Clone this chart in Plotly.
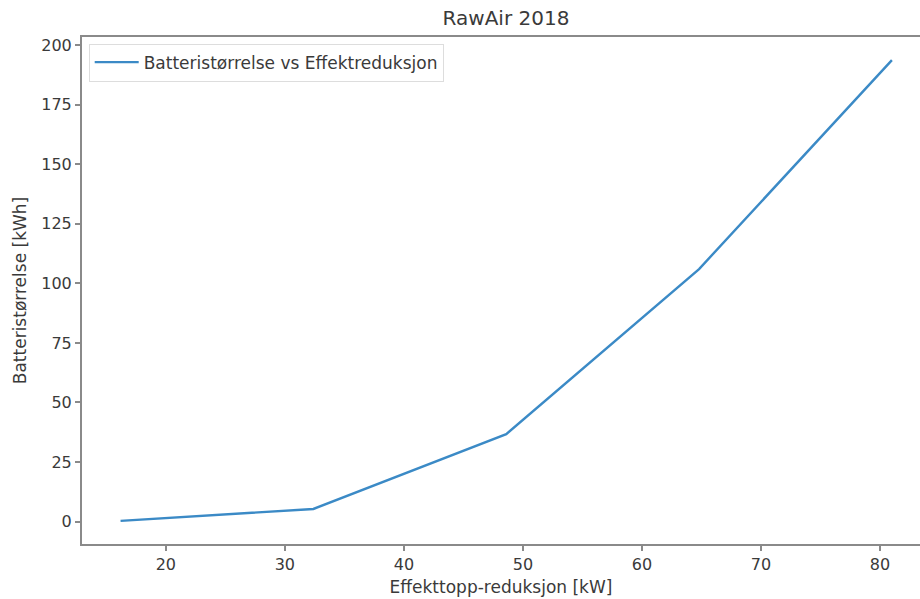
import plotly.graph_objects as go

# Peak-shaving reduction [kW] vs required battery size [kWh]
reduksjon_kw = [16.2, 32.4, 48.6, 64.8, 81.0]
batteri_kwh = [0.3, 5.3, 36.7, 106.0, 193.7]

x_ticks = [20, 30, 40, 50, 60, 70, 80]
y_ticks = [0, 25, 50, 75, 100, 125, 150, 175, 200]

text_col = "#3a3a3a"
frame_col = "#8a8a8a"
font = "DejaVu Sans"

fig = go.Figure()
fig.add_trace(go.Scatter(
    x=reduksjon_kw, y=batteri_kwh, mode="lines",
    name="Batteristørrelse vs Effektreduksjon",
    line=dict(color="#3b8ac6", width=2.4),
))

fig.update_layout(
    width=920, height=599,
    margin=dict(l=82, r=0, t=37, b=55),
    paper_bgcolor="white", plot_bgcolor="white",
    font=dict(family=font, size=16, color=text_col),
    title=dict(text="RawAir 2018", x=506 / 920, xanchor="center",
               y=1 - 18 / 599, yanchor="middle",
               font=dict(size=20, color=text_col)),
    showlegend=True,
    legend=dict(x=0.008, y=0.987, xanchor="left", yanchor="top",
                bgcolor="rgba(255,255,255,0.9)", bordercolor="#dddddd",
                borderwidth=1, itemwidth=44,
                font=dict(size=17, color=text_col)),
)

fig.update_xaxes(
    range=[12.96, 83.36], tickvals=x_ticks, ticks="outside", ticklen=5,
    tickcolor=frame_col, tickwidth=1.5,
    showgrid=False, zeroline=False,
    showline=True, linecolor=frame_col, linewidth=2, mirror=True,
    title=dict(text="Effekttopp-reduksjon [kW]", standoff=8,
               font=dict(size=17, color=text_col)),
    tickfont=dict(size=16, color=text_col),
)
fig.update_yaxes(
    range=[-9.4, 203.4], tickvals=y_ticks, ticks="outside", ticklen=5,
    tickcolor=frame_col, tickwidth=1.5,
    showgrid=False, zeroline=False,
    showline=True, linecolor=frame_col, linewidth=2, mirror=False,
    title=dict(text="Batteristørrelse [kWh]", standoff=10,
               font=dict(size=17, color=text_col)),
    tickfont=dict(size=16, color=text_col),
)

fig.write_html("out.html")
